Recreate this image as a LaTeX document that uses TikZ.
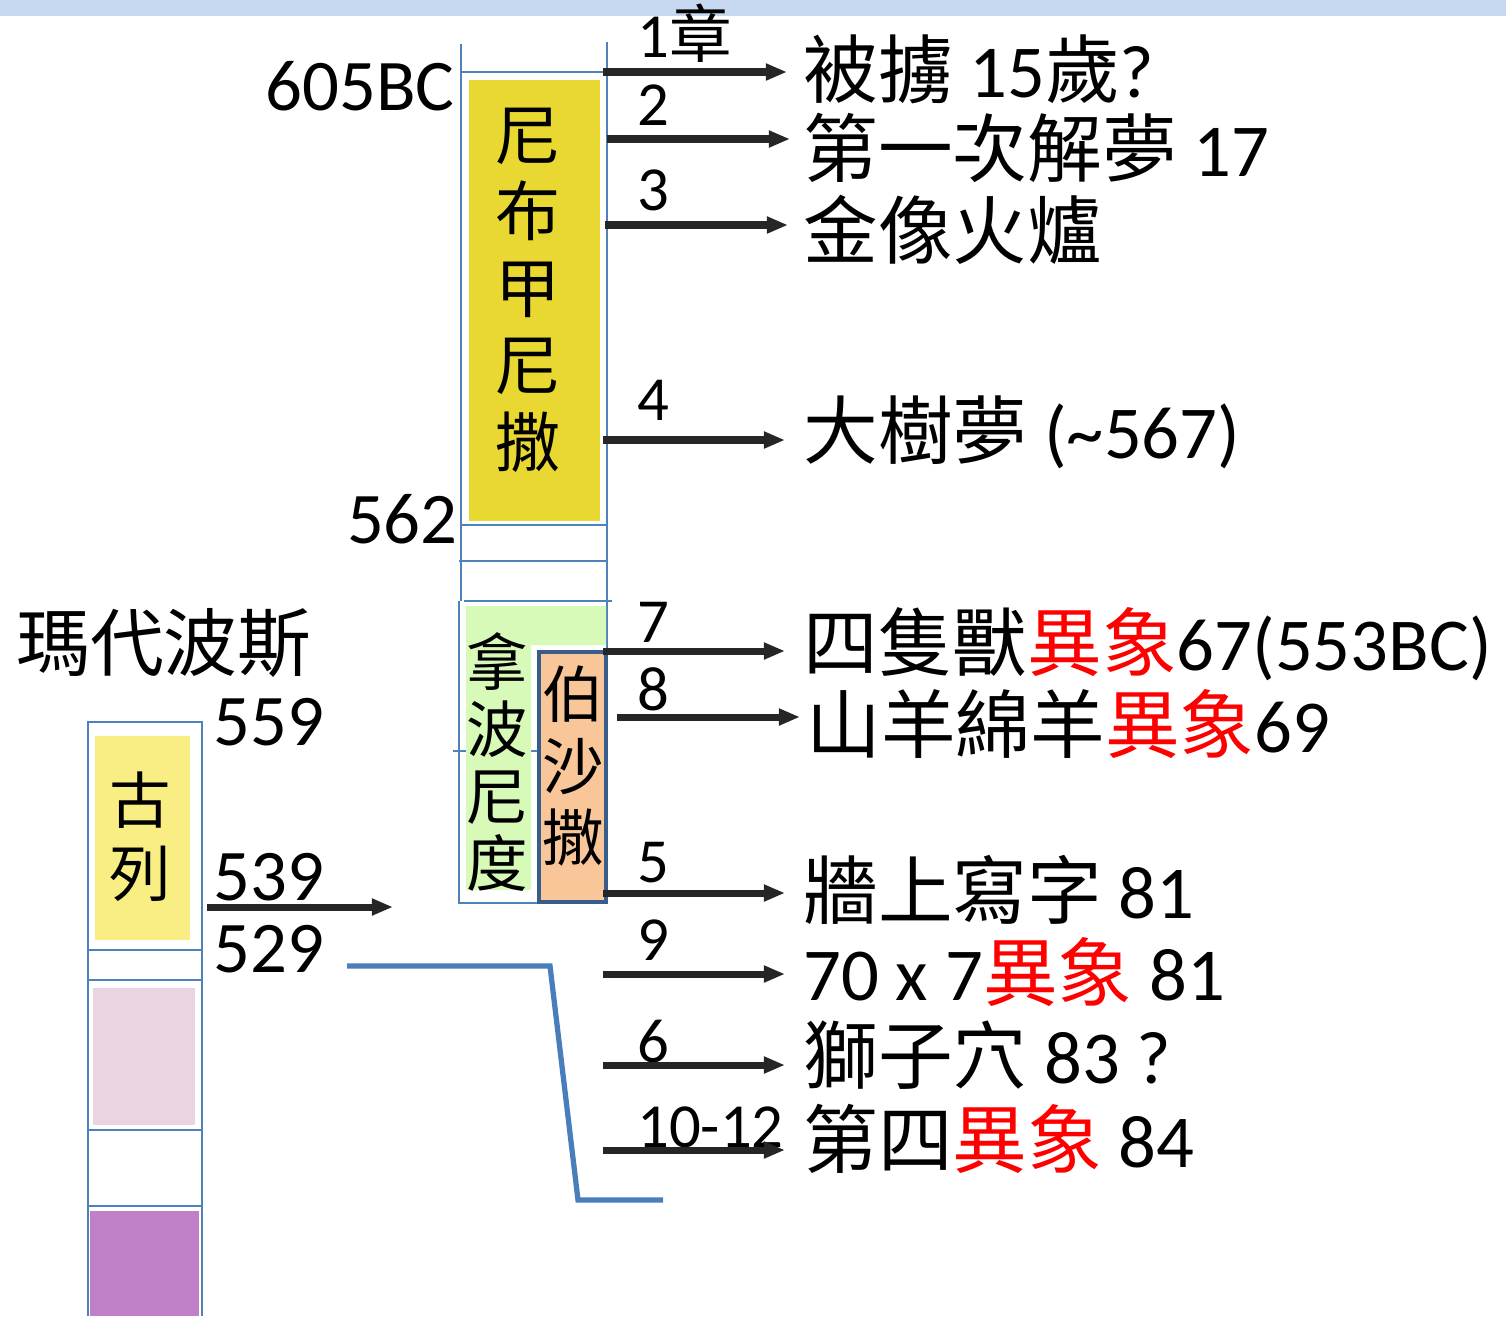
\documentclass[tikz,border=0pt]{standalone}
\usepackage{fontspec}
\setmainfont{Carlito}
\newfontfamily\cjk{Noto Sans CJK TC}
\usetikzlibrary{arrows.meta}
\definecolor{bandblue}{HTML}{C6D9F0}
\definecolor{lineblue}{HTML}{4F81BD}
\definecolor{linkblue}{HTML}{4A7EBB}
\definecolor{darkblue}{HTML}{385D8A}
\definecolor{nebyellow}{HTML}{E9D831}
\definecolor{cyrusyellow}{HTML}{F9EE84}
\definecolor{nabgreen}{HTML}{D7FAB9}
\definecolor{belorange}{HTML}{F9C69A}
\definecolor{lightpink}{HTML}{EBD4E2}
\definecolor{persiapurple}{HTML}{C080C8}
\tikzset{
  frame/.style={draw=lineblue, line width=1.3pt},
  chap/.style={draw=black!85, line width=4pt, -{Triangle[length=12pt,width=9pt]}},
  link/.style={draw=linkblue, line width=3pt},
  lbl/.style={font=\fontsize{42.5}{50}\selectfont, inner sep=0, anchor=base west},
  num/.style={font=\fontsize{35.7}{42}\selectfont, inner sep=0, anchor=base west},
  yr/.style={font=\fontsize{41.4}{48}\selectfont, inner sep=0},
  vert/.style={font=\cjk\fontsize{37}{43.7}\selectfont, align=center, inner sep=0}
}
\begin{document}
\begin{tikzpicture}[x=0.02cm, y=-0.02cm]
\useasboundingbox (0,0) rectangle (1506,1316);
\fill[bandblue] (0,0) rectangle (1506,16);

% Nebuchadnezzar column
\draw[frame] (461,44) -- (461,601);
\draw[frame] (607,42) -- (607,651);
\draw[frame] (461,72) -- (607,72);
\fill[nebyellow] (469,80) rectangle (600,521);
\draw[frame] (461,525) -- (607,525);
\draw[frame] (459,561) -- (607,561);
\draw[frame] (464,601) -- (612,601);
\draw[frame] (459,601) -- (459,903) -- (540,903);
\draw[frame] (453,751) -- (540,751);
\fill[nabgreen] (466,606) -- (606,606) -- (606,645) -- (531,645) -- (531,890) -- (466,890) -- cycle;
\filldraw[fill=belorange, draw=darkblue, line width=2.5pt] (539,652) rectangle (606,902);
\node[vert] (neb) at (528,290) {尼\\布\\甲\\尼\\撒};
\node[vert, font=\cjk\fontsize{35}{38}\selectfont] (nab) at (497,762) {拿\\波\\尼\\度};
\node[vert, font=\cjk\fontsize{35}{40.8}\selectfont] (bel) at (573,766) {伯\\沙\\撒};

% Cyrus column
\draw[frame] (88,1316) -- (88,722) -- (202,722) -- (202,1316);
\fill[cyrusyellow] (95,736) rectangle (190,940);
\foreach \y in {950,980,1130,1206}
  \draw[frame] (88,\y) -- (202,\y);
\fill[lightpink] (93,988) rectangle (195,1125);
\fill[persiapurple] (90,1211) rectangle (199,1316);
\node[vert, font=\cjk\fontsize{35}{41.4}\selectfont] (cyr) at (140,837) {古\\列};

% years
\node[yr, anchor=base east] (y605) at (455,110) {605BC};
\node[yr, anchor=base east] (y562) at (458,543) {562};
\node[yr, anchor=base west, font=\cjk\fontsize{42}{48}\selectfont] (persia) at (16,670) {瑪代波斯};
\node[yr, anchor=base west] (y559) at (213,745) {559};
\node[yr, anchor=base west] (y539) at (213,900) {539};
\node[yr, anchor=base west] (y529) at (213,972) {529};
\coordinate (u539) at (207,907);
\coordinate (v539) at (393,907);
\draw[chap] (u539) -- (v539);
\coordinate (c529) at (347,966);
\coordinate (d529) at (663,1200);
\draw[link] (c529) -- (550,966) -- (578,1200) -- (d529);

% chapters
\node[num] (n1) at (637,57) {1{\cjk 章}};
\node[num] (n2) at (637,125) {2};
\node[num] (n3) at (637,210) {3};
\node[num] (n4) at (637,420) {4};
\node[num] (n7) at (637,642) {7};
\node[num] (n8) at (637,710) {8};
\node[num] (n5) at (637,882) {5};
\node[num] (n9) at (637,960) {9};
\node[num] (n6) at (637,1062) {6};
\node[num] (n10) at (637,1147) {10-12};

\node[lbl] (t1) at (803,97) {{\cjk 被擄} 15{\cjk 歲}?};
\node[lbl] (t2) at (803,176) {{\cjk 第一次解夢} 17};
\node[lbl] (t3) at (803,258) {{\cjk 金像火爐}};
\node[lbl] (t4) at (803,458) {{\cjk 大樹夢} (\textasciitilde567)};
\node[lbl] (t7) at (803,670) {{\cjk 四隻獸\color{red}異象}67(553BC)};
\node[lbl] (t8) at (806,752) {{\cjk 山羊綿羊\color{red}異象}69};
\node[lbl] (t5) at (803,918) {{\cjk 牆上寫字} 81};
\node[lbl] (t9) at (803,1000) {70 x 7{\cjk\color{red}異象} 81};
\node[lbl] (t6) at (803,1083) {{\cjk 獅子穴} 83 ?};
\node[lbl] (t10) at (803,1167) {{\cjk 第四\color{red}異象} 84};

\foreach \k/\xs/\y/\sh in {1/603/72/0.32cm, 2/607/139/0.26cm, 3/605/225/0.3cm,
    4/603/440/0.36cm, 7/603/651/0.36cm, 8/617/717/0.12cm, 5/603/893/0.36cm,
    9/603/974/0.36cm, 6/603/1065/0.36cm, 10/603/1150/0.36cm} {
  \coordinate (s\k) at (\xs,\y);
  \draw[chap, shorten >=\sh] (s\k) -- (s\k -| t\k.west);
}
\end{tikzpicture}
\end{document}
